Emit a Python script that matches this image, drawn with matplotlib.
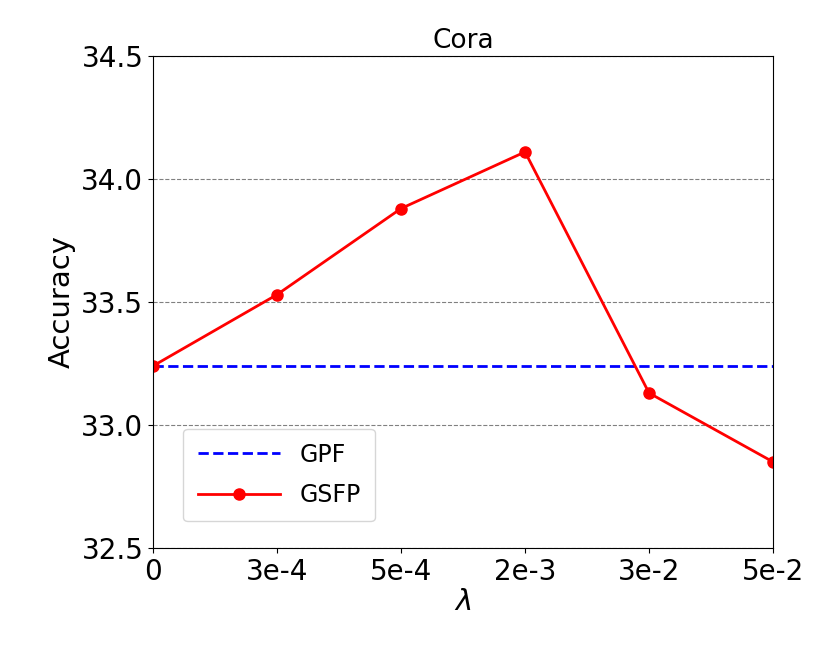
import matplotlib
matplotlib.use("Agg")
import matplotlib.pyplot as plt

labels = ["0", "3e-4", "5e-4", "2e-3", "3e-2", "5e-2"]
gsfp = [33.24, 33.53, 33.88, 34.11, 33.13, 32.85]
gpf = 33.24

fig = plt.figure(figsize=(8.29, 6.58), dpi=100)
ax = fig.add_axes([0.1846, 0.1672, 0.7479, 0.7477])
x = list(range(len(labels)))
ax.plot(x, [gpf]*len(x), "b--", lw=2, label="GPF")
ax.plot(x, gsfp, "r-o", lw=2, ms=8, label="GSFP")
ax.set_xlim(0, len(x)-1)
ax.set_ylim(32.5, 34.5)
ax.set_yticks([32.5, 33.0, 33.5, 34.0, 34.5])
ax.set_xticks(x)
ax.set_xticklabels(labels)
ax.tick_params(labelsize=20)
ax.grid(axis="y", ls="--", color="gray", lw=0.8)
ax.set_xlabel(r"$\lambda$", fontsize=21, labelpad=2)
ax.set_ylabel("Accuracy", fontsize=21)
ax.set_title("Cora", fontsize=19)
ax.legend(loc="lower left", fontsize=17, bbox_to_anchor=(0.03, 0.03), handlelength=3.5,
          borderpad=0.6, labelspacing=0.7)
fig.savefig("out.png", dpi=100)
